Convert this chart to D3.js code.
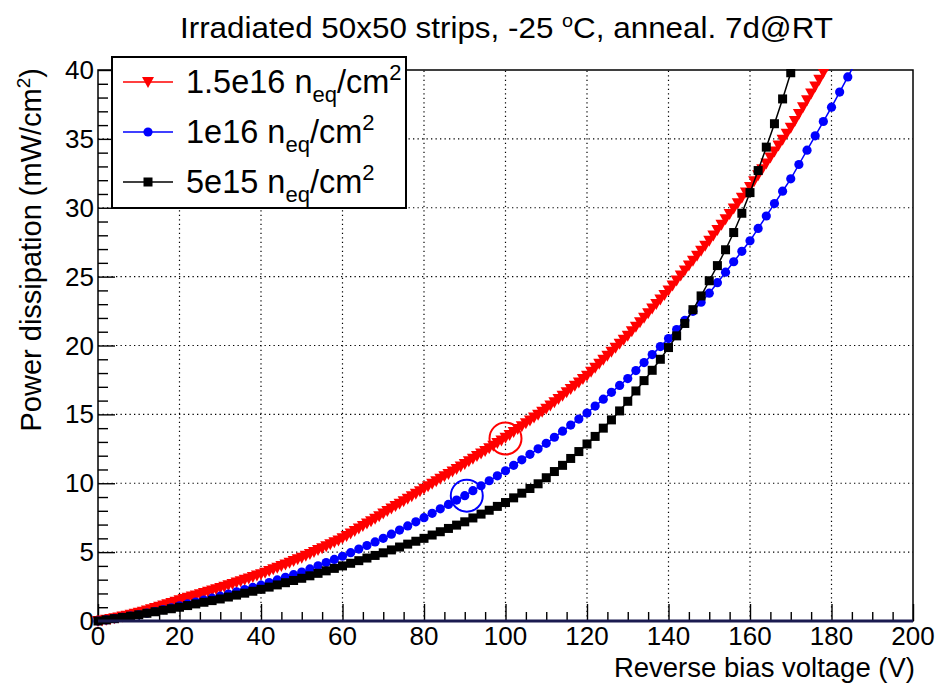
<!DOCTYPE html>
<html><head><meta charset="utf-8">
<script src="https://cdn.jsdelivr.net/npm/d3@7"></script>
<style>body{margin:0;background:#fff}svg{display:block}text{font-family:"Liberation Sans",Arial,sans-serif}</style>
</head><body><svg id="c" width="940" height="686"></svg>
<script>
// ---- data ----
const xTicks = [0,20,40,60,80,100,120,140,160,180,200];
const yTicks = [0,5,10,15,20,25,30,35,40];
const seriesNames = ["1.5e16", "1e16", "5e15"];
// 1.5e16 neq/cm2 : 1 V steps from 0 V
const redV = d3.range(0,180,1);
const redP = [
 0,0.04,0.09,0.14,0.2,0.26,0.32,0.39,0.45,0.52,
 0.6,0.68,0.76,0.85,0.94,1.03,1.12,1.21,1.31,1.4,
 1.5,1.59,1.68,1.77,1.86,1.95,2.04,2.13,2.22,2.31,
 2.4,2.49,2.59,2.69,2.79,2.89,2.99,3.09,3.19,3.3,
 3.4,3.51,3.63,3.75,3.87,3.99,4.11,4.23,4.35,4.48,
 4.6,4.73,4.87,5.01,5.15,5.29,5.43,5.57,5.71,5.85,
 6.0,6.17,6.35,6.53,6.71,6.89,7.07,7.25,7.43,7.61,
 7.8,7.98,8.16,8.34,8.52,8.7,8.88,9.06,9.24,9.42,
 9.6,9.78,9.96,10.14,10.32,10.5,10.68,10.86,11.04,11.22,
 11.4,11.59,11.78,11.97,12.16,12.35,12.54,12.73,12.92,13.11,
 13.3,13.51,13.72,13.93,14.14,14.35,14.56,14.77,14.98,15.19,
 15.4,15.64,15.88,16.12,16.36,16.6,16.84,17.08,17.32,17.56,
 17.8,18.09,18.38,18.67,18.96,19.25,19.54,19.83,20.12,20.41,
 20.7,21.03,21.36,21.69,22.02,22.35,22.68,23.01,23.34,23.67,
 24.0,24.36,24.72,25.08,25.44,25.8,26.16,26.52,26.88,27.24,
 27.6,27.99,28.38,28.77,29.16,29.55,29.94,30.33,30.72,31.11,
 31.5,31.93,32.36,32.79,33.22,33.65,34.08,34.51,34.94,35.37,
 35.8,36.3,36.8,37.3,37.8,38.3,38.8,39.3,39.8,40.3];
// 1e16 neq/cm2 : 2 V steps
const blueV = d3.range(0,188,2);
const blueP = [
 0,0.08,0.17,0.26,0.35,0.45,0.57,0.69,0.83,0.96,
 1.1,1.24,1.38,1.52,1.66,1.8,1.96,2.12,2.28,2.44,
 2.6,2.79,2.98,3.17,3.36,3.55,3.78,4.01,4.24,4.47,
 4.7,4.96,5.22,5.48,5.74,6.0,6.3,6.6,6.9,7.2,
 7.5,7.82,8.14,8.46,8.78,9.1,9.46,9.82,10.18,10.54,
 10.9,11.3,11.7,12.1,12.5,12.9,13.34,13.78,14.22,14.66,
 15.1,15.6,16.1,16.6,17.1,17.6,18.18,18.76,19.34,19.92,
 20.5,21.16,21.82,22.48,23.14,23.8,24.56,25.32,26.08,26.84,
 27.6,28.5,29.4,30.3,31.2,32.1,33.14,34.18,35.22,36.26,
 37.3,38.4,39.5,40.6];
// 5e15 neq/cm2 : 2 V steps
const blackV = d3.range(0,172,2);
const blackP = [
 0,0.08,0.17,0.26,0.35,0.45,0.56,0.67,0.78,0.89,
 1.0,1.12,1.24,1.36,1.48,1.6,1.74,1.88,2.02,2.16,
 2.3,2.46,2.62,2.78,2.94,3.1,3.28,3.46,3.64,3.82,
 4.0,4.19,4.38,4.57,4.76,4.95,5.16,5.37,5.58,5.79,
 6.0,6.24,6.48,6.72,6.96,7.2,7.48,7.76,8.04,8.32,
 8.6,8.94,9.28,9.62,9.96,10.4,10.85,11.3,11.8,12.3,
 12.85,13.4,14.0,14.6,15.25,15.95,16.7,17.45,18.2,19.0,
 19.85,20.7,21.6,22.6,23.6,24.7,25.8,26.95,28.2,29.6,
 31.1,32.7,34.4,36.1,37.9,39.8];
// highlighted points (open circles)
const markV = [100, 90.5];
const markP = [13.25, 9.1];

// ---- layout ----
const svg = d3.select("#c");
const x = d3.scaleLinear().domain([0,200]).range([98,913]);
const y = d3.scaleLinear().domain([0,40]).range([621,70]);

svg.append("defs").append("clipPath").attr("id","clip")
  .append("rect").attr("x",0).attr("y",y(40)-1).attr("width",940).attr("height",686);

// grid
const grid = svg.append("g").attr("stroke","#000").attr("stroke-width",1.2)
  .attr("stroke-dasharray","1.3,3.2").attr("fill","none");
xTicks.filter(v=>v>0&&v<200).forEach(v=>grid.append("line")
  .attr("x1",x(v)).attr("x2",x(v)).attr("y1",y(0)).attr("y2",y(40)));
yTicks.filter(v=>v>0&&v<40).forEach(v=>grid.append("line")
  .attr("x1",x(0)).attr("x2",x(200)).attr("y1",y(v)).attr("y2",y(v)));

// axes (d3 axes, ticks inward)
const xAxis = d3.axisTop(x).tickValues(d3.range(0,201,5)).tickSize(0).tickFormat("");
const gx = svg.append("g").attr("transform",`translate(0,${y(0)})`).call(xAxis);
gx.select(".domain").remove();
gx.selectAll(".tick line").attr("y2", d=> d%20===0 ? -17 : -9).attr("stroke","#000").attr("stroke-width",1.4);
const yAxis = d3.axisRight(y).tickValues(d3.range(0,41,1)).tickSize(0).tickFormat("");
const gy = svg.append("g").attr("transform",`translate(${x(0)},0)`).call(yAxis);
gy.select(".domain").remove();
gy.selectAll(".tick line").attr("x2", d=> d%5===0 ? 17 : 10).attr("stroke","#000").attr("stroke-width",1.4);

// frame
svg.append("rect").attr("x",x(0)).attr("y",y(40)).attr("width",x(200)-x(0)).attr("height",y(0)-y(40))
  .attr("fill","none").attr("stroke","#000").attr("stroke-width",1.5);

// tick labels
svg.append("g").selectAll("text").data(xTicks).join("text")
  .attr("x",d=>x(d)).attr("y",y(0)+24).attr("text-anchor","middle")
  .attr("font-size",26).text(d=>d);
svg.append("g").selectAll("text").data(yTicks).join("text")
  .attr("x",x(0)-4).attr("y",d=>y(d)+9).attr("text-anchor","end")
  .attr("font-size",26).text(d=>d);

// axis titles
svg.append("text").attr("x",x(200)+2).attr("y",677).attr("text-anchor","end")
  .attr("font-size",27.5).text("Reverse bias voltage (V)");
const yt = svg.append("text").attr("transform",`translate(41,68) rotate(-90)`)
  .attr("text-anchor","end").attr("font-size",29);
yt.append("tspan").text("Power dissipation (mW/cm");
yt.append("tspan").attr("font-size",19).attr("dy",-11).text("2");
yt.append("tspan").attr("dy",11).text(")");

// title
const tt = svg.append("text").attr("x",180).attr("y",38).attr("font-size",30)
  .attr("textLength",653).attr("lengthAdjust","spacingAndGlyphs");
tt.append("tspan").text("Irradiated 50x50 strips, -25 ");
tt.append("tspan").attr("font-size",19).attr("dy",-11).text("o");
tt.append("tspan").attr("dy",11).text("C, anneal. 7d@RT");

// series
const series = [
  {V:redV, P:redP, color:"#ff0000", shape:"tri"},
  {V:blueV, P:blueP, color:"#0000ff", shape:"circle"},
  {V:blackV, P:blackP, color:"#000000", shape:"square"}
];
const plot = svg.append("g").attr("clip-path","url(#clip)");
function drawMarker(g, shape, color, cx, cy){
  if(shape==="tri"){
    g.append("path").attr("d",`M${cx-6},${cy-5}L${cx+6},${cy-5}L${cx},${cy+6}Z`).attr("fill",color);
  } else if(shape==="circle"){
    g.append("circle").attr("cx",cx).attr("cy",cy).attr("r",4.6).attr("fill",color);
  } else {
    g.append("rect").attr("x",cx-4.5).attr("y",cy-4.5).attr("width",9).attr("height",9).attr("fill",color);
  }
}
series.forEach(s=>{
  const pts = s.V.map((v,i)=>[v,s.P[i]]);
  plot.append("path").datum(pts).attr("fill","none").attr("stroke",s.color).attr("stroke-width",1.5)
    .attr("d", d3.line().x(d=>x(d[0])).y(d=>y(d[1])));
  const g = plot.append("g");
  pts.forEach(d=>drawMarker(g, s.shape, s.color, x(d[0]), y(d[1])));
});
// x-axis base line (dark)
svg.append("line").attr("x1",x(0)).attr("x2",x(200)).attr("y1",y(0)).attr("y2",y(0))
  .attr("stroke","#1a1a50").attr("stroke-width",3);

// open circles
const markColors = ["#ff0000","#0000ff"];
svg.append("g").selectAll("circle").data(markV).join("circle")
  .attr("cx",(d)=>x(d)).attr("cy",(d,i)=>y(markP[i])).attr("r",16)
  .attr("fill","none").attr("stroke",(d,i)=>markColors[i]).attr("stroke-width",2);

// legend
const lg = svg.append("g");
lg.append("rect").attr("x",112).attr("y",57).attr("width",294).attr("height",151)
  .attr("fill","#fff").attr("stroke","#000").attr("stroke-width",2);
series.forEach((s,i)=>{
  const cy = 82 + i*50;
  lg.append("line").attr("x1",123).attr("x2",173).attr("y1",cy).attr("y2",cy)
    .attr("stroke",s.color).attr("stroke-width",1.5);
  drawMarker(lg, s.shape, s.color, 148, cy);
  const t = lg.append("text").attr("x",186).attr("y",cy+11).attr("font-size",32.5);
  t.append("tspan").text(seriesNames[i]+" n");
  t.append("tspan").attr("font-size",22).attr("dy",9).text("eq");
  t.append("tspan").attr("dy",-9).text("/cm");
  t.append("tspan").attr("font-size",22).attr("dy",-13).text("2");
});
</script></body></html>
